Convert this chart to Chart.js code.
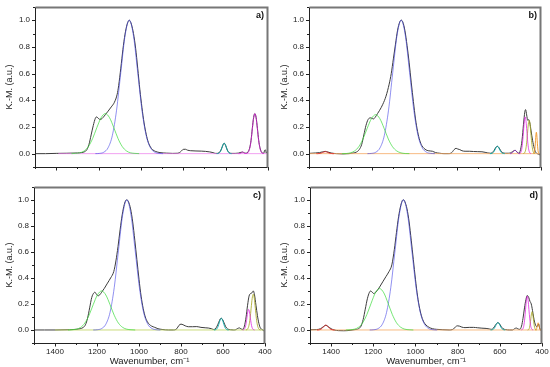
<!DOCTYPE html>
<html>
<head>
<meta charset="utf-8">
<script src="https://cdn.jsdelivr.net/npm/chart.js@4.4.1/dist/chart.umd.min.js"></script>
<style>
  html, body { margin: 0; padding: 0; background: #fff; }
  #wrap { position: relative; width: 550px; height: 367px; }
  canvas { position: absolute; }
</style>
</head>
<body>
<div id="wrap">
  <canvas id="pa" width="275" height="180" style="left:0;top:0"></canvas>
  <canvas id="pb" width="275" height="180" style="left:275px;top:0"></canvas>
  <canvas id="pc" width="275" height="187" style="left:0;top:180px"></canvas>
  <canvas id="pd" width="275" height="187" style="left:275px;top:180px"></canvas>
</div>
<script>
// axis ticks
const xTickLabels = [1400, 1200, 1000, 800, 600, 400];
const yTickLabels = [0, 0.2, 0.4, 0.6, 0.8, 1.0];

// ---- panel a ----
const aExpWn = [1500,1450,1400,1350,1300, 1280,1265,1255,1245,1235, 1225,1215,1210,1203,1195, 1188,1178,1168,1155,1140,
  1125,1112,1105,1095,1085, 1075,1065,1060,1055,1050, 1045,1035,1025,1015,1005, 995,985,975,965,955,
  945,930,910,880,850, 825,812,800,790,780, 765,740,715,695,675, 660,648,640,632,622,
  615,607,600,592,582, 570,555,540,528,520, 512,503,495,487,480, 474,468,462,456,450,
  444,438,432,426,420, 416,412,408,404,400];
const aExpKM = [0,0,0.002,0.003,0.005, 0.008,0.015,0.03,0.07,0.14, 0.21,0.265,0.275,0.268,0.257, 0.258,0.272,0.292,0.318,0.35,
  0.385,0.445,0.51,0.64,0.78, 0.895,0.97,0.99,1.0,0.99, 0.97,0.90,0.79,0.64,0.48, 0.345,0.23,0.145,0.085,0.05,
  0.03,0.016,0.008,0.004,0.002, 0.003,0.015,0.032,0.033,0.026, 0.022,0.02,0.019,0.017,0.013, 0.008,0.002,0.002,0.006,0.027,
  0.055,0.078,0.062,0.027,0.006, 0.002,0.002,0.004,0.01,0.012, 0.006,0.003,0.012,0.04,0.10, 0.19,0.27,0.30,0.27,0.19,
  0.10,0.045,0.015,0.004,0.003, 0.025,0.028,0.005,0.015,0.01];
const aGreenWn = [1328,1308,1288,1268,1248,1228,1208,1188,1168,1148,1128,1108,1088,1068,1048,1028,1008];
const aGreenKM = [0,0.002,0.006,0.02,0.053,0.113,0.195,0.269,0.30,0.269,0.195,0.113,0.053,0.02,0.006,0.002,0];
const aBlueWn = [1215,1195,1175,1155,1135,1115,1095,1075,1055,1035,1015,995,975,955,935,915,895];
const aBlueKM = [0,0.002,0.011,0.044,0.135,0.325,0.607,0.882,1.0,0.882,0.607,0.325,0.135,0.044,0.011,0.002,0];
const aCyanWn = [642,637,632,627,622,617,612,607,602,597,592,587,582,577,572];
const aCyanKM = [0,0.001,0.003,0.011,0.025,0.047,0.069,0.078,0.069,0.047,0.025,0.011,0.003,0.001,0];
const aMagWn = [540,530,524,520,516,510,504,498,492,486,480,474,468,462,456,450,444,438,432,426,420];
const aMagKM = [0,0.002,0.009,0.012,0.009,0.002,0.001,0.003,0.013,0.041,0.097,0.182,0.265,0.30,0.265,0.182,0.097,0.041,0.013,0.003,0.001];
const aBaseWn = [1390, 400];
const aBaseKM = [0, 0];

// ---- panel b ----
const bExpWn = [1500,1470,1450,1437,1423,1410,1395,1370,1340,1310, 1290,1275,1262,1250,1240, 1230,1220,1210,1202,1194,
  1185,1175,1165,1150,1135, 1120,1110,1100,1090,1080, 1070,1063,1055,1045,1035, 1025,1015,1005,995,985,
  975,965,955,945,935, 925,915,900,880,860, 840,825,812,803,795, 785,775,760,740,720,
  700,680,665,652,640, 630,622,615,607,600, 592,582,570,555,545, 535,528,523,518,512,
  505,497,490,483,477, 473,468,463,458,453, 447,440,432,425,418, 410,405,400];
const bExpKM = [0.002,0.005,0.008,0.013,0.017,0.012,0.005,0,-0.002,0, 0.005,0.012,0.03,0.07,0.14, 0.21,0.255,0.268,0.265,0.26,
  0.275,0.30,0.325,0.37,0.43, 0.52,0.60,0.71,0.82,0.925, 0.985,1.0,0.985,0.92,0.81, 0.68,0.53,0.39,0.26,0.165,
  0.10,0.06,0.04,0.028,0.022, 0.02,0.018,0.008,0.003,0, 0,0.005,0.03,0.04,0.035, 0.03,0.022,0.018,0.018,0.016,
  0.015,0.014,0.01,0.005,0.003, 0.01,0.025,0.045,0.055,0.046, 0.025,0.008,0.003,0.003,0.006, 0.015,0.022,0.025,0.02,0.008,
  0.003,0.03,0.10,0.22,0.31, 0.33,0.29,0.25,0.255,0.23, 0.17,0.10,0.04,0.01,0, -0.005,-0.01,-0.015];
const bRedWn = [1465,1459,1453,1447,1441,1435,1429,1423,1417,1411,1405,1399,1393,1387,1381];
const bRedKM = [0,0,0.001,0.002,0.005,0.009,0.013,0.015,0.013,0.009,0.005,0.002,0.001,0,0];
const bGreenWn = [1344,1324,1304,1284,1264,1244,1224,1204,1184,1164,1144,1124,1104,1084,1064,1044,1024];
const bGreenKM = [0,0.001,0.006,0.02,0.052,0.11,0.19,0.262,0.292,0.262,0.19,0.11,0.052,0.02,0.006,0.001,0];
const bBlueWn = [1223,1203,1183,1163,1143,1123,1103,1083,1063,1043,1023,1003,983,963,943,923,903];
const bBlueKM = [0,0.002,0.011,0.044,0.135,0.325,0.607,0.882,1.0,0.882,0.607,0.325,0.135,0.044,0.011,0.002,0];
const bCyanWn = [642,637,632,627,622,617,612,607,602,597,592,587,582,577,572];
const bCyanKM = [0,0.001,0.002,0.007,0.018,0.033,0.049,0.055,0.049,0.033,0.018,0.007,0.002,0.001,0];
const bPurpleWn = [547,543,539,535,531,527,523,519,515,511,507,503,499];
const bPurpleKM = [0,0.001,0.003,0.008,0.015,0.022,0.025,0.022,0.015,0.008,0.003,0.001,0];
const bMagWn = [503,499,495,491,487,483,479,475,471,467,463,459,455,451,447];
const bMagKM = [0.001,0.003,0.012,0.037,0.089,0.167,0.243,0.275,0.243,0.167,0.089,0.037,0.012,0.003,0.001];
const bOliveWn = [484,480,476,472,468,464,460,456,452,448,444,440,436,432,428];
const bOliveKM = [0.001,0.003,0.011,0.034,0.081,0.152,0.221,0.25,0.221,0.152,0.081,0.034,0.011,0.003,0.001];
const bOrangeWn = [436,434,432,430,428,426,424,422,420,418,416,414,412,410,408];
const bOrangeKM = [0,0.002,0.007,0.022,0.052,0.097,0.141,0.16,0.141,0.097,0.052,0.022,0.007,0.002,0];
const bBaseWn = [1500, 400];
const bBaseKM = [0, 0];

// ---- panel c ----
const cExpWn = [1500,1450,1400,1330,1300, 1280,1265,1255,1245,1235, 1225,1215,1210,1203,1195, 1187,1178,1165,1150,1135,
  1120,1110,1100,1090,1080, 1070,1063,1058,1050,1040, 1030,1020,1010,1000,990, 980,970,960,950,940,
  925,910,890,860,835, 820,810,800,790,780, 765,745,725,705,685, 670,655,645,637,628,
  620,613,608,602,595, 587,578,565,550,540, 532,522,514,506,498, 490,483,476,469,462,
  456,450,443,436,429, 422,415,407,400];
const cExpKM = [0,0,0,0.002,0.005, 0.01,0.02,0.04,0.09,0.17, 0.25,0.285,0.29,0.275,0.262, 0.27,0.29,0.32,0.36,0.40,
  0.45,0.53,0.64,0.77,0.885, 0.965,0.995,1.0,0.985,0.93, 0.83,0.69,0.54,0.39,0.26, 0.165,0.10,0.063,0.042,0.03,
  0.02,0.01,0.004,0,0, 0.01,0.035,0.045,0.04,0.032, 0.025,0.025,0.026,0.02,0.017, 0.015,0.01,0.004,0.008,0.03,
  0.06,0.085,0.09,0.08,0.055, 0.025,0.008,0.002,0,0.002, 0.01,0.016,0.008,0.005,0.03, 0.10,0.19,0.26,0.28,0.285,
  0.30,0.27,0.19,0.11,0.05, 0.015,0.005,-0.005,-0.01];
const cGreenWn = [1338,1318,1298,1278,1258,1238,1218,1198,1178,1158,1138,1118,1098,1078,1058,1038,1018];
const cGreenKM = [0,0.002,0.006,0.02,0.053,0.113,0.195,0.269,0.30,0.269,0.195,0.113,0.053,0.02,0.006,0.002,0];
const cBlueWn = [1218,1198,1178,1158,1138,1118,1098,1078,1058,1038,1018,998,978,958,938,918,898];
const cBlueKM = [0,0.002,0.011,0.044,0.135,0.325,0.607,0.882,1.0,0.882,0.607,0.325,0.135,0.044,0.011,0.002,0];
const cCyanWn = [643,638,633,628,623,618,613,608,603,598,593,588,583,578,573];
const cCyanKM = [0,0.001,0.004,0.012,0.029,0.055,0.079,0.09,0.079,0.055,0.029,0.012,0.004,0.001,0];
const cMagWn = [506,502,498,494,490,486,482,478,474,470,466,462,458,454,450];
const cMagKM = [0,0.002,0.007,0.021,0.051,0.096,0.139,0.158,0.139,0.096,0.051,0.021,0.007,0.002,0];
const cOliveWn = [491,486,481,476,471,466,461,456,451,446,441,436,431,426,421];
const cOliveKM = [0.001,0.003,0.012,0.037,0.089,0.167,0.243,0.275,0.243,0.167,0.089,0.037,0.012,0.003,0.001];
const cBaseWn = [1400, 400];
const cBaseKM = [0, 0];

// ---- panel d ----
const dExpWn = [1500,1470,1450,1437,1425, 1413,1400,1385,1365,1340, 1310,1290,1270,1258,1248, 1238,1228,1218,1212,1205,
  1198,1192,1183,1170,1155, 1140,1125,1112,1100,1090, 1080,1070,1062,1057,1050, 1040,1030,1020,1010,1000,
  990,980,970,960,950, 935,920,900,870,840, 825,812,802,792,780, 765,745,725,705,685,
  665,650,640,630,622, 615,609,602,594,585, 572,555,540,530,522, 514,505,497,490,483,
  476,470,463,457,451, 445,440,435,430,425, 420,416,412,407,400];
const dExpKM = [0.002,0.003,0.01,0.025,0.036, 0.025,0.01,0,-0.005,-0.006, -0.003,0.002,0.01,0.03,0.08, 0.16,0.24,0.29,0.30,0.29,
  0.28,0.285,0.30,0.33,0.37, 0.41,0.45,0.50,0.62,0.75, 0.87,0.955,0.995,1.0,0.985, 0.93,0.83,0.69,0.54,0.39,
  0.26,0.165,0.10,0.06,0.038, 0.02,0.01,0.005,0.002,0, 0.003,0.02,0.032,0.03,0.022, 0.018,0.02,0.02,0.017,0.014,
  0.012,0.008,0.005,0.015,0.035, 0.05,0.057,0.048,0.028,0.01, 0.003,0,0,0.01,0.015, 0.008,0.005,0.03,0.09,0.17,
  0.235,0.265,0.25,0.22,0.20, 0.15,0.10,0.06,0.035,0.025, 0.035,0.045,0.02,0,-0.01];
const dRedWn = [1467,1461,1455,1449,1443,1437,1431,1425,1419,1413,1407,1401,1395,1389,1383];
const dRedKM = [0,0,0.002,0.005,0.012,0.022,0.033,0.037,0.033,0.022,0.012,0.005,0.002,0,0];
const dGreenWn = [1330,1310,1290,1270,1250,1230,1210,1190,1170,1150,1130,1110,1090,1070,1050,1030,1010];
const dGreenKM = [0,0.002,0.006,0.021,0.056,0.12,0.206,0.285,0.318,0.285,0.206,0.12,0.056,0.021,0.006,0.002,0];
const dBlueWn = [1217,1197,1177,1157,1137,1117,1097,1077,1057,1037,1017,997,977,957,937,917,897];
const dBlueKM = [0,0.002,0.011,0.044,0.135,0.325,0.607,0.882,1.0,0.882,0.607,0.325,0.135,0.044,0.011,0.002,0];
const dCyanWn = [644,639,634,629,624,619,614,609,604,599,594,589,584,579,574];
const dCyanKM = [0,0.001,0.003,0.008,0.019,0.035,0.05,0.057,0.05,0.035,0.019,0.008,0.003,0.001,0];
const dMagWn = [498,494,490,486,482,478,474,470,466,462,458,454,450,446,442];
const dMagKM = [0.001,0.003,0.011,0.035,0.085,0.158,0.229,0.26,0.229,0.158,0.085,0.035,0.011,0.003,0.001];
const dOliveWn = [468,465,462,459,456,453,450,447,444,441,438,435,432,429,426];
const dOliveKM = [0,0.002,0.006,0.019,0.046,0.085,0.124,0.14,0.124,0.085,0.046,0.019,0.006,0.002,0];
const dOrangeWn = [432,430,428,426,424,422,420,418,416,414,412,410,408,406,404];
const dOrangeKM = [0,0.001,0.002,0.007,0.018,0.033,0.049,0.055,0.049,0.033,0.018,0.007,0.002,0.001,0];
const dBaseWn = [1500, 400];
const dBaseKM = [0, 0];

const FONT = 'Arial, "Liberation Sans", sans-serif';
const C = {
  exp: '#3c3c3c',
  green: 'rgba(60,220,60,0.7)',
  blue: 'rgba(70,70,230,0.6)',
  cyan: 'rgba(0,170,170,0.85)',
  mag: 'rgba(220,30,220,0.75)',
  pink: 'rgba(235,120,235,0.7)',
  red: 'rgba(230,40,40,0.85)',
  orange: 'rgba(240,140,20,0.85)',
  olive: 'rgba(170,170,40,0.85)',
  purple: 'rgba(150,40,200,0.8)',
  baseOrange: 'rgba(245,170,100,0.8)',
  baseYellow: 'rgba(190,210,90,0.8)'
};

// outward ticks, box and panel letter
const framePlugin = {
  id: 'frame',
  afterDraw(chart, args, opts) {
    const { ctx, chartArea: a, scales: { x, y } } = chart;
    ctx.save();
    ctx.strokeStyle = '#222';
    ctx.lineWidth = 1;
    ctx.beginPath();
    for (let v = 400; v <= 1500; v += 100) {
      const px = Math.round(x.getPixelForValue(v)) + 0.5;
      const len = v % 200 === 0 ? 3.5 : 2;
      ctx.moveTo(px, a.bottom);
      ctx.lineTo(px, a.bottom + len);
    }
    for (let k = -1; k <= 11; k++) {
      const py = Math.round(y.getPixelForValue(k / 10)) + 0.5;
      const len = (k >= 0 && k % 2 === 0) ? 3 : 2;
      ctx.moveTo(a.left, py);
      ctx.lineTo(a.left - len, py);
    }
    ctx.stroke();
    const L = Math.round(a.left) + 0.5, R = Math.round(a.right) - 0.5;
    const T = Math.round(a.top) + 0.5, B = Math.round(a.bottom) + 0.5;
    ctx.strokeStyle = '#777';
    ctx.lineWidth = 2;
    ctx.beginPath();
    ctx.moveTo(L, T); ctx.lineTo(R, T); ctx.lineTo(R, B);
    ctx.stroke();
    ctx.strokeStyle = '#222';
    ctx.lineWidth = 1;
    ctx.beginPath();
    ctx.moveTo(L, T); ctx.lineTo(L, B); ctx.lineTo(R, B);
    ctx.stroke();
    ctx.fillStyle = '#111';
    ctx.font = 'bold 9px ' + FONT;
    ctx.textAlign = 'right';
    ctx.textBaseline = 'middle';
    ctx.fillText(opts.tag, a.right - 4, a.top + 9);
    ctx.restore();
  }
};

function panel(id, tag, box, showX, series) {
  const cv = document.getElementById(id);
  const W = cv.width, H = cv.height;
  const datasets = series.map(s => ({
    data: s.x.map((v, i) => ({ x: v, y: s.y[i] })),
    borderColor: s.c,
    borderWidth: 1,
    pointRadius: 0,
    fill: false,
    cubicInterpolationMode: 'monotone'
  }));
  new Chart(cv, {
    type: 'line',
    data: { datasets: datasets },
    options: {
      responsive: false,
      animation: false,
      devicePixelRatio: 1,
      layout: { padding: { left: 0, top: box.top, right: W - box.right, bottom: 0 } },
      plugins: { legend: { display: false }, tooltip: { enabled: false }, frame: { tag: tag } },
      scales: {
        x: {
          type: 'linear', reverse: true, min: 400, max: 1500,
          grid: { display: false, drawTicks: true, tickLength: 3 },
          border: { display: false },
          afterBuildTicks: s => { s.ticks = xTickLabels.map(v => ({ value: v })); },
          afterFit: s => { s.height = H - box.bottom; },
          ticks: { display: showX, padding: 1, maxRotation: 0, autoSkip: false, color: '#222',
                   font: { size: 8, family: FONT }, callback: v => String(v) },
          title: { display: showX, text: 'Wavenumber, cm\u207B\u00B9', color: '#222',
                   font: { size: 9.5, family: FONT }, padding: { top: 0, bottom: 0 } }
        },
        y: {
          min: -0.1, max: 1.1,
          grid: { display: false, drawTicks: true, tickLength: 3 },
          border: { display: false },
          afterBuildTicks: s => { s.ticks = yTickLabels.map(v => ({ value: v })); },
          afterFit: s => { s.width = box.left; },
          ticks: { padding: 2, color: '#222', font: { size: 8, family: FONT }, callback: v => v.toFixed(1) },
          title: { display: true, text: 'K.-M. (a.u.)', color: '#222',
                   font: { size: 9, family: FONT }, padding: { top: 4, bottom: 0 } }
        }
      }
    },
    plugins: [framePlugin]
  });
}

panel('pa', 'a)', { left: 35, right: 268, top: 5, bottom: 167 }, false, [
  { x: aGreenWn, y: aGreenKM, c: C.green },
  { x: aBlueWn, y: aBlueKM, c: C.blue },
  { x: aCyanWn, y: aCyanKM, c: C.cyan },
  { x: aMagWn, y: aMagKM, c: C.mag },
  { x: aBaseWn, y: aBaseKM, c: C.pink },
  { x: aExpWn, y: aExpKM, c: C.exp }
]);

panel('pb', 'b)', { left: 34, right: 266, top: 5, bottom: 167 }, false, [
  { x: bRedWn, y: bRedKM, c: C.red },
  { x: bGreenWn, y: bGreenKM, c: C.green },
  { x: bBlueWn, y: bBlueKM, c: C.blue },
  { x: bCyanWn, y: bCyanKM, c: C.cyan },
  { x: bPurpleWn, y: bPurpleKM, c: C.purple },
  { x: bMagWn, y: bMagKM, c: C.mag },
  { x: bOliveWn, y: bOliveKM, c: C.olive },
  { x: bOrangeWn, y: bOrangeKM, c: C.orange },
  { x: bBaseWn, y: bBaseKM, c: C.baseOrange },
  { x: bExpWn, y: bExpKM, c: C.exp }
]);

panel('pc', 'c)', { left: 34, right: 265, top: 1, bottom: 163 }, true, [
  { x: cGreenWn, y: cGreenKM, c: C.green },
  { x: cBlueWn, y: cBlueKM, c: C.blue },
  { x: cCyanWn, y: cCyanKM, c: C.cyan },
  { x: cMagWn, y: cMagKM, c: C.mag },
  { x: cOliveWn, y: cOliveKM, c: C.olive },
  { x: cBaseWn, y: cBaseKM, c: C.baseYellow },
  { x: cExpWn, y: cExpKM, c: C.exp }
]);

panel('pd', 'd)', { left: 35, right: 267, top: 1, bottom: 163 }, true, [
  { x: dRedWn, y: dRedKM, c: C.red },
  { x: dGreenWn, y: dGreenKM, c: C.green },
  { x: dBlueWn, y: dBlueKM, c: C.blue },
  { x: dCyanWn, y: dCyanKM, c: C.cyan },
  { x: dMagWn, y: dMagKM, c: C.mag },
  { x: dOliveWn, y: dOliveKM, c: C.olive },
  { x: dOrangeWn, y: dOrangeKM, c: C.orange },
  { x: dBaseWn, y: dBaseKM, c: C.baseOrange },
  { x: dExpWn, y: dExpKM, c: C.exp }
]);
</script>
</body>
</html>
